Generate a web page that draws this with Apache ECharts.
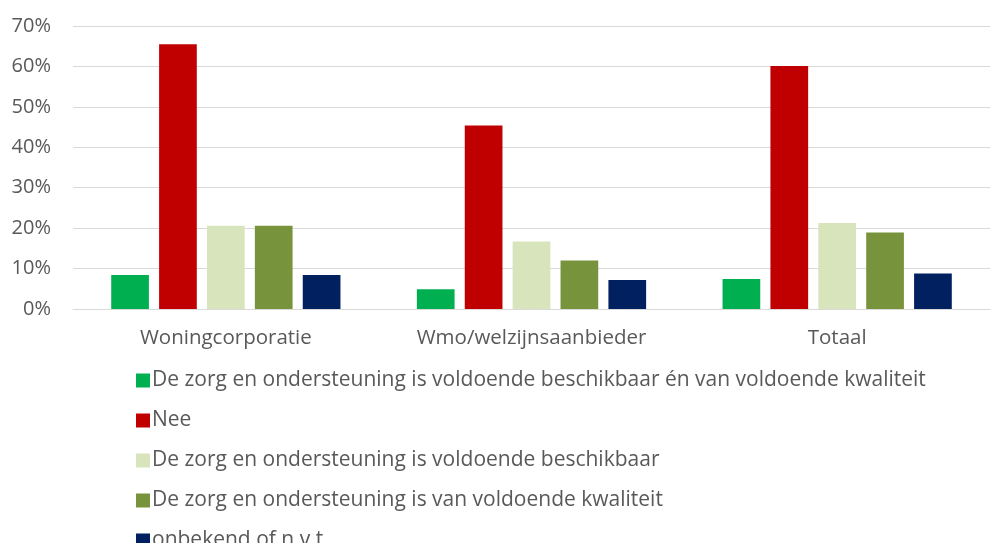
<!DOCTYPE html>
<html>
<head>
<meta charset="utf-8">
<script src="https://cdn.jsdelivr.net/npm/echarts@6/dist/echarts.min.js"></script>
<style>
  html, body { margin: 0; padding: 0; background: #fff; }
  #chart { width: 993px; height: 543px; }
</style>
</head>
<body>
<div id="chart"></div>
<script>
const categories = ['Woningcorporatie', 'Wmo/welzijnsaanbieder', 'Totaal'];
const seriesNames = [
  'De zorg en ondersteuning is voldoende beschikbaar én van voldoende kwaliteit',
  'Nee',
  'De zorg en ondersteuning is voldoende beschikbaar',
  'De zorg en ondersteuning is van voldoende kwaliteit',
  'onbekend of n.v.t.',
];
const beschikbaarEnKwaliteit = [8.4, 4.9, 7.4];
const nee = [65.5, 45.4, 60.1];
const beschikbaar = [20.6, 16.7, 21.3];
const kwaliteit = [20.6, 12.0, 18.9];
const onbekend = [8.4, 7.2, 8.8];
const colors = ['#00b050', '#c00000', '#d8e4bc', '#77933c', '#002060'];
const yTicks = [0, 10, 20, 30, 40, 50, 60, 70];

const textColor = '#595959';
const font = 'Open Sans';
const allData = [beschikbaarEnKwaliteit, nee, beschikbaar, kwaliteit, onbekend];

const chart = echarts.init(document.getElementById('chart'));
chart.setOption({
  animation: false,
  grid: { left: 73, right: 3, top: 26, bottom: 234, containLabel: false },
  legend: {
    orient: 'vertical',
    left: 131,
    top: 365,
    height: 200,
    itemWidth: 14,
    itemHeight: 14,
    itemGap: 19,
    icon: 'rect',
    textStyle: { color: textColor, fontSize: 21, fontFamily: font, padding: [0, 0, 0, -3] },
    data: seriesNames,
  },
  xAxis: {
    type: 'category',
    data: categories,
    axisLine: { lineStyle: { color: '#d9d9d9', width: 1 } },
    axisTick: { show: false },
    axisLabel: { color: textColor, fontSize: 20.5, fontFamily: font, margin: 19, interval: 0 },
  },
  yAxis: {
    type: 'value',
    min: yTicks[0],
    max: yTicks[yTicks.length - 1],
    interval: 10,
    axisLine: { show: false },
    axisTick: { show: false },
    splitLine: { lineStyle: { color: '#d9d9d9', width: 1 } },
    axisLabel: {
      color: textColor, fontSize: 20, fontFamily: font, margin: 22,
      formatter: (v) => v + '%',
    },
  },
  series: seriesNames.map((name, i) => ({
    name,
    type: 'bar',
    data: allData[i],
    itemStyle: { color: colors[i] },
    barGap: '27%',
    barCategoryGap: '25%',
  })),
});
</script>
</body>
</html>
